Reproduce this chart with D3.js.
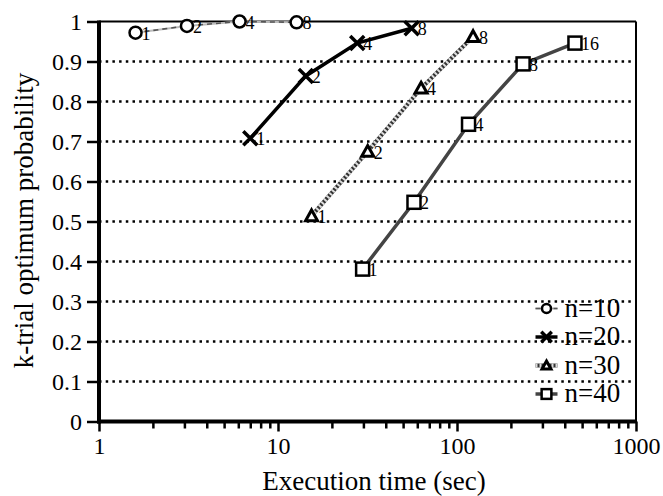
<!DOCTYPE html>
<html lang="en">
<head>
  <meta charset="UTF-8">
  <title>k-trial optimum probability</title>
  <script src="https://d3js.org/d3.v7.min.js"></script>
  <style>
    body { margin: 0; background: #fff; }
    text { font-family: "Liberation Serif", "Times New Roman", serif; fill: #000; }
  </style>
</head>
<body>
  <div class="canvas"></div>
  <script>
    const width = 663;
    const height = 496;
    let [mt, mb, mr, ml] = [21.5, 74.5, 27, 99];

    // data
    const seriesNames = ['n=10', 'n=20', 'n=30', 'n=40'];
    const n10Trials = [1, 2, 4, 8];
    const n10Time = [1.6, 3.1, 6.1, 12.7];
    const n10Prob = [0.972, 0.989, 1.0, 0.998];
    const n20Trials = [1, 2, 4, 8];
    const n20Time = [7.0, 14.3, 27.7, 55.8];
    const n20Prob = [0.708, 0.864, 0.946, 0.983];
    const n30Trials = [1, 2, 4, 8];
    const n30Time = [15.4, 31.7, 63, 123];
    const n30Prob = [0.514, 0.675, 0.833, 0.962];
    const n40Trials = [1, 2, 4, 8, 16];
    const n40Time = [29.7, 57.5, 116, 234, 456];
    const n40Prob = [0.381, 0.548, 0.743, 0.894, 0.946];
    const yTicks = [0, 0.1, 0.2, 0.3, 0.4, 0.5, 0.6, 0.7, 0.8, 0.9, 1];
    const xTicks = [1, 10, 100, 1000];

    const graphWidth = width - ml - mr;
    const graphHeight = height - mt - mb;

    const series = [
      { name: seriesNames[0], sym: 'circle', trials: n10Trials, time: n10Time, prob: n10Prob },
      { name: seriesNames[1], sym: 'cross', trials: n20Trials, time: n20Time, prob: n20Prob },
      { name: seriesNames[2], sym: 'triangle', trials: n30Trials, time: n30Time, prob: n30Prob },
      { name: seriesNames[3], sym: 'square', trials: n40Trials, time: n40Time, prob: n40Prob }
    ];

    const svg = d3.select('.canvas')
      .append('svg')
      .attr('width', width)
      .attr('height', height)

    const graph = svg.append('g')
      .attr('transform', `translate(${ml}, ${mt})`)

    const x = d3.scaleLog().domain([1, 1000]).range([0, graphWidth])
    const y = d3.scaleLinear().domain([0, 1]).range([graphHeight, 0])

    // dotted grid
    graph.selectAll('line.grid')
      .data(yTicks.filter(t => t > 0 && t < 1))
      .enter().append('line')
      .attr('x1', 0).attr('x2', graphWidth)
      .attr('y1', d => y(d)).attr('y2', d => y(d))
      .attr('stroke', '#000').attr('stroke-width', 2.5)
      .attr('stroke-dasharray', '2.5,4.2')

    // top and right frame
    graph.append('line').attr('x1', 0).attr('x2', graphWidth).attr('y1', 0).attr('y2', 0)
      .attr('stroke', '#000').attr('stroke-width', 2)
    graph.append('line').attr('x1', graphWidth).attr('x2', graphWidth).attr('y1', 0).attr('y2', graphHeight)
      .attr('stroke', '#000').attr('stroke-width', 2)

    // axes
    const yAxis = d3.axisLeft(y).tickValues(yTicks).tickSize(12).tickPadding(5)
      .tickFormat(d => d3.format('')(+d.toFixed(1)))
    const gy = graph.append('g').call(yAxis)
    gy.select('.domain').remove()
    gy.selectAll('.tick line').attr('stroke-width', 2.5)
    gy.selectAll('text').style('font-size', '24px')
      .style('font-family', '"Liberation Serif", serif').attr('dy', '0.34em')

    const minor = []
    for (let p = 1; p < 1000; p *= 10) for (let k = 2; k < 10; k++) minor.push(p * k)
    const xAxis = d3.axisBottom(x).tickValues(xTicks).tickSize(10).tickPadding(5)
      .tickFormat(d3.format('d'))
    const gx = graph.append('g').attr('transform', `translate(0, ${graphHeight})`).call(xAxis)
    gx.select('.domain').remove()
    gx.selectAll('.tick line').attr('stroke-width', 2.5)
    gx.selectAll('text').style('font-size', '24px').style('font-family', '"Liberation Serif", serif')
    graph.append('g').attr('transform', `translate(0, ${graphHeight})`)
      .call(d3.axisBottom(x).tickValues(minor).tickSize(7).tickFormat(''))
      .call(g => g.select('.domain').remove())
      .selectAll('.tick line').attr('stroke-width', 2.5)

    // thick left and bottom axis lines
    graph.append('line').attr('x1', 0).attr('x2', 0).attr('y1', -1).attr('y2', graphHeight + 2)
      .attr('stroke', '#000').attr('stroke-width', 4)
    graph.append('line').attr('x1', -2).attr('x2', graphWidth + 1).attr('y1', graphHeight).attr('y2', graphHeight)
      .attr('stroke', '#000').attr('stroke-width', 4)

    // axis titles
    svg.append('text')
      .attr('x', 374).attr('y', 490)
      .attr('text-anchor', 'middle')
      .style('font-size', '27px')
      .text('Execution time (sec)')
    svg.append('text')
      .attr('transform', `translate(33, ${mt + graphHeight / 2 - 1}) rotate(-90)`)
      .attr('text-anchor', 'middle')
      .style('font-size', '27px')
      .text('k-trial optimum probability')

    // line styles
    function drawLine(g, s, pts) {
      const line = d3.line().x(d => d[0]).y(d => d[1])
      if (s.sym === 'circle') {
        g.append('path').attr('d', line(pts)).attr('fill', 'none').attr('stroke', '#bbb').attr('stroke-width', 2)
        g.append('path').attr('d', line(pts)).attr('fill', 'none').attr('stroke', '#555').attr('stroke-width', 1.6)
          .attr('stroke-dasharray', '5,4')
      } else if (s.sym === 'cross') {
        g.append('path').attr('d', line(pts)).attr('fill', 'none').attr('stroke', '#000').attr('stroke-width', 3.5)
      } else if (s.sym === 'triangle') {
        g.append('path').attr('d', line(pts)).attr('fill', 'none').attr('stroke', '#333').attr('stroke-width', 4)
        g.append('path').attr('d', line(pts)).attr('fill', 'none').attr('stroke', '#ddd').attr('stroke-width', 4)
          .attr('stroke-dasharray', '2,2')
      } else {
        g.append('path').attr('d', line(pts)).attr('fill', 'none').attr('stroke', '#444').attr('stroke-width', 3.5)
      }
    }

    function drawMarker(g, sym, cx, cy, sc) {
      if (sym === 'circle') {
        g.append('circle').attr('cx', cx).attr('cy', cy).attr('r', 6 * sc)
          .attr('fill', '#fff').attr('stroke', '#000').attr('stroke-width', 2.5)
      } else if (sym === 'cross') {
        const h = 7 * sc
        g.append('path').attr('d', `M${cx - h},${cy - h}L${cx + h},${cy + h}M${cx - h},${cy + h}L${cx + h},${cy - h}`)
          .attr('stroke', '#000').attr('stroke-width', 3.5).attr('fill', 'none')
      } else if (sym === 'triangle') {
        const h = 6 * sc
        g.append('path').attr('d', `M${cx},${cy - h}L${cx + h},${cy + h * 0.8}L${cx - h},${cy + h * 0.8}Z`)
          .attr('fill', '#fff').attr('stroke', '#000').attr('stroke-width', 3)
      } else {
        const h = 6.5 * sc
        g.append('rect').attr('x', cx - h).attr('y', cy - h).attr('width', 2 * h).attr('height', 2 * h)
          .attr('fill', '#fff').attr('stroke', '#000').attr('stroke-width', 2.5)
      }
    }

    series.forEach(s => {
      const pts = s.time.map((t, i) => [x(t), y(s.prob[i])])
      const g = graph.append('g')
      drawLine(g, s, pts)
      pts.forEach((p, i) => {
        drawMarker(g, s.sym, p[0], p[1], 1)
        g.append('text')
          .attr('x', p[0] + 6).attr('y', p[1] + 7)
          .style('font-size', '18px')
          .text(s.trials[i])
      })
    })

    // legend
    const legend = graph.append('g')
    series.forEach((s, i) => {
      const ly = 287 + i * 28.5
      const lx = 447.5
      const g = legend.append('g')
      drawLine(g, s, [[lx - 11, ly], [lx + 11, ly]])
      drawMarker(g, s.sym, lx, ly, 0.75)
      g.append('text').attr('x', lx + 18).attr('y', ly + 8)
        .style('font-size', '27px')
        .text(s.name)
    })
  </script>
</body>
</html>
